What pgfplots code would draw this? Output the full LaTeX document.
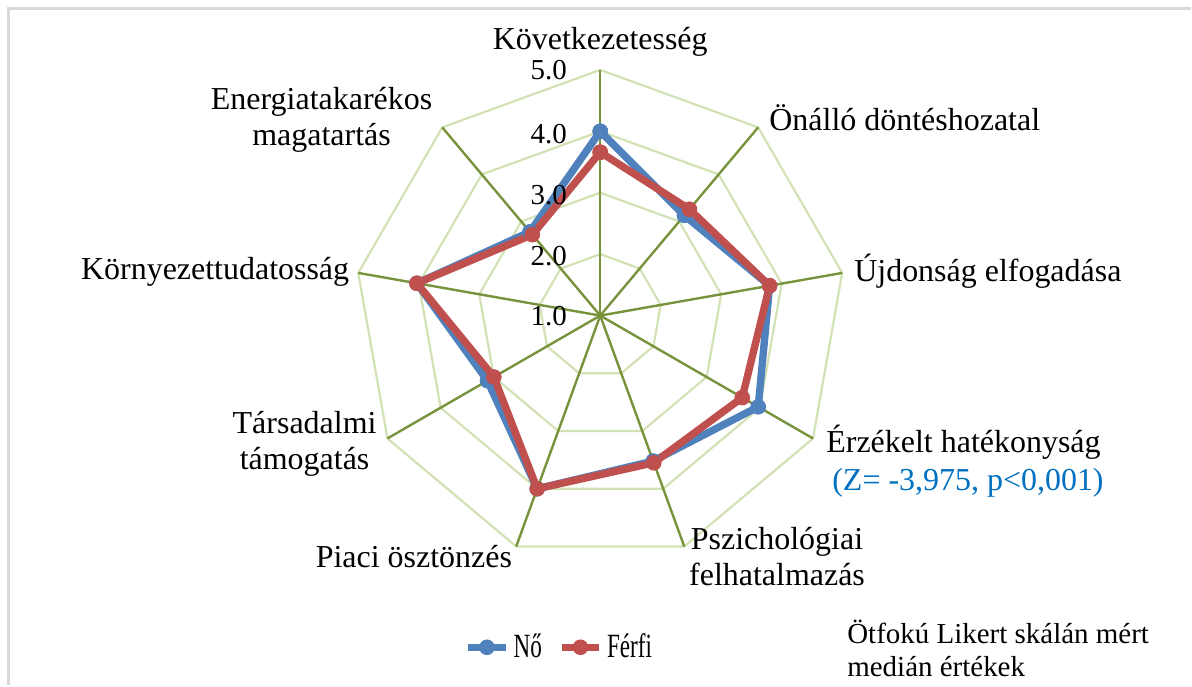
\documentclass[border=0pt]{standalone}
\usepackage{pgfplots}
\pgfplotsset{compat=1.18}
\usepackage{pgfplotstable}
\usepackage{graphicx}
\usepackage{fontspec}
\setmainfont{Liberation Serif}
\definecolor{noB}{HTML}{4F81BD}
\definecolor{ffR}{HTML}{C0504D}
\definecolor{spoke}{HTML}{77933C}
\definecolor{ring}{HTML}{D2E2B4}
\definecolor{zblue}{HTML}{0070C0}
\definecolor{frameG}{HTML}{D9D9D9}

% angle (deg), value (1-5 scale)
\pgfplotstableread{
a v
90 4.00
50 3.13
10 3.80
-30 3.97
-70 3.52
-110 4.00
-150 3.12
-190 4.03
-230 2.78
90 4.00
}\noTable
\pgfplotstableread{
a v
90 3.66
50 3.26
10 3.80
-30 3.67
-70 3.55
-110 4.00
-150 3.00
-190 4.03
-230 2.72
90 3.66
}\ffTable

\begin{document}
\begin{tikzpicture}
\begin{axis}[
  x=30.75pt, y=30.75pt,
  xmin=-9.772, xmax=9.610, ymin=-6.016, ymax=5.138,
  hide axis, clip=false,
  legend style={at={(axis cs:-2.22,-5.40)}, anchor=west, draw=none, fill=none,
    legend columns=2, font=\fontsize{17}{19}\selectfont, inner xsep=0pt,
    /tikz/every even column/.append style={column sep=6pt}},
  legend image code/.code={%
    \draw[mark repeat=2,mark phase=2,#1] plot coordinates {(0pt,0pt) (9.5pt,0pt) (19pt,0pt)};},
]
\path (axis cs:-9.772,-6.016) rectangle (axis cs:9.610,5.138);
% frame
\draw[frameG, line width=1.5pt] (axis cs:-9.634,-6.016) -- (axis cs:-9.634,4.992) -- (axis cs:9.610,4.992);
% rings
\pgfplotsinvokeforeach{1,2,3,4}{
  \draw[ring, line width=1.1pt, line join=miter] (axis cs:0,#1)
    -- (axis cs:{#1*cos(50)},{#1*sin(50)})
    -- (axis cs:{#1*cos(10)},{#1*sin(10)})
    -- (axis cs:{#1*cos(-30)},{#1*sin(-30)})
    -- (axis cs:{#1*cos(-70)},{#1*sin(-70)})
    -- (axis cs:{#1*cos(-110)},{#1*sin(-110)})
    -- (axis cs:{#1*cos(-150)},{#1*sin(-150)})
    -- (axis cs:{#1*cos(-190)},{#1*sin(-190)})
    -- (axis cs:{#1*cos(-230)},{#1*sin(-230)})
    -- cycle;
}
% spokes
\pgfplotsinvokeforeach{90,50,10,-30,-70,-110,-150,-190,-230}{
  \draw[spoke, line width=1.2pt] (axis cs:0,0) -- (axis cs:{4*cos(#1)},{4*sin(#1)});
}
\addplot[noB, line width=3.7pt, line join=round, mark=*, mark size=3.7pt,
  mark options={solid, fill=noB, line width=0.4pt}]
  table[x expr={(\thisrow{v}-1)*cos(\thisrow{a})}, y expr={(\thisrow{v}-1)*sin(\thisrow{a})}] {\noTable};
\addlegendentry{\scalebox{0.68}[1]{Nő}}
\addplot[ffR, line width=3.7pt, line join=round, mark=*, mark size=3.7pt,
  mark options={solid, fill=ffR, line width=0.4pt}]
  table[x expr={(\thisrow{v}-1)*cos(\thisrow{a})}, y expr={(\thisrow{v}-1)*sin(\thisrow{a})}] {\ffTable};
\addlegendentry{\scalebox{0.68}[1]{Férfi}}
\coordinate (c) at (axis cs:0,0);
\end{axis}
\begin{scope}[shift={(c)}, x=0.5pt, y=-0.5pt]
  \begin{scope}[font=\fontsize{16}{18}\selectfont, inner sep=0pt]
    \node[anchor=center] at (0,-274) {Következetesség};
    \node[anchor=west] at (169,-198) {Önálló döntéshozatal};
    \node[anchor=west] at (254,-44) {Újdonság elfogadása};
    \node[anchor=west] at (226,127) {Érzékelt hatékonyság};
    \node[anchor=west, text=zblue] at (232,167) {(Z= -3,975, p<0,001)};
    \node[anchor=center, align=center] at (177,241) {Pszichológiai\\felhatalmazás};
    \node[anchor=east] at (-88,241) {Piaci ösztönzés};
    \node[anchor=center, align=center] at (-296,128) {Társadalmi\\támogatás};
    \node[anchor=east] at (-251,-44) {Környezettudatosság};
    \node[anchor=center, align=center] at (-279,-196) {Energiatakarékos\\magatartás};
  \end{scope}
  \begin{scope}[font=\fontsize{14.5}{17}\selectfont, inner sep=0pt]
    \node[anchor=east] at (-33,-246) {5.0};
    \node[anchor=east] at (-33,-182) {4.0};
    \node[anchor=east] at (-33,-121) {3.0};
    \node[anchor=east] at (-33,-60) {2.0};
    \node[anchor=east] at (-33,0) {1.0};
    \node[anchor=west] at (247,317) {Ötfokú Likert skálán mért};
    \node[anchor=west] at (247,351) {medián értékek};
  \end{scope}
\end{scope}
\end{tikzpicture}
\end{document}
